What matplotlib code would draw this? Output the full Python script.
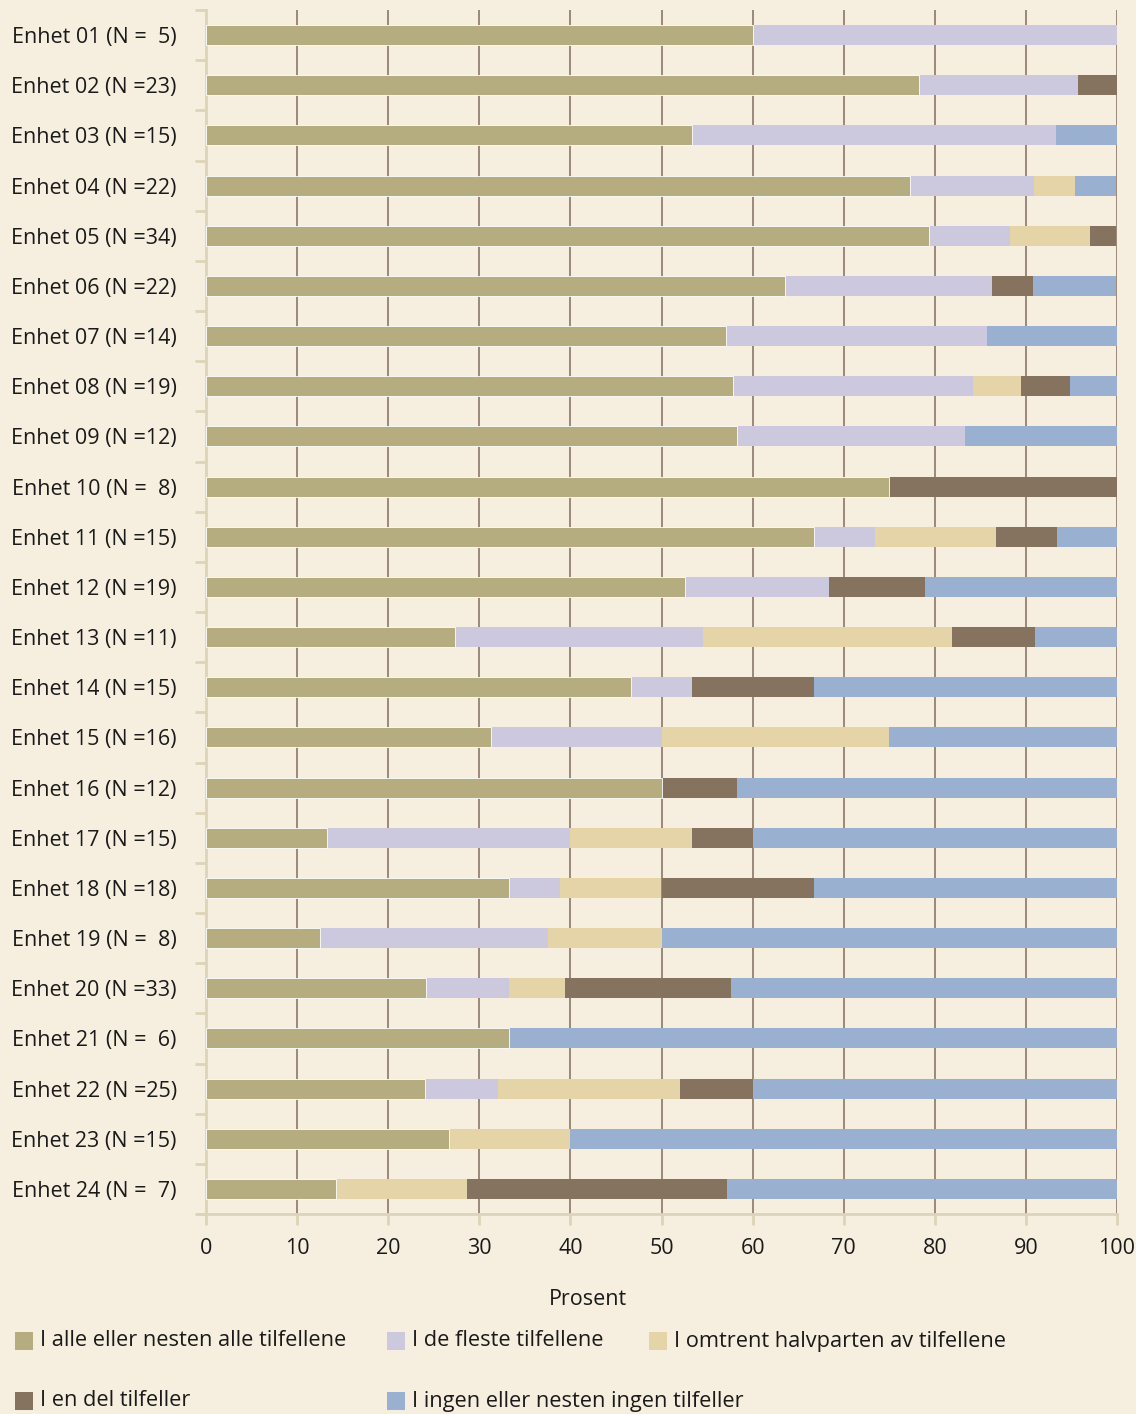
import matplotlib
matplotlib.use("Agg")
import matplotlib.pyplot as plt
from matplotlib.patches import Rectangle
import numpy as np

units = [f"Enhet {i:02d}" for i in range(1, 25)]
n_values = [5, 23, 15, 22, 34, 22, 14, 19, 12, 8, 15, 19, 11, 15, 16, 12, 15, 18, 8, 33, 6, 25, 15, 7]

categories = ["I alle eller nesten alle tilfellene", "I de fleste tilfellene",
              "I omtrent halvparten av tilfellene", "I en del tilfeller",
              "I ingen eller nesten ingen tilfeller"]

alle = [60.0, 78.3, 53.3, 77.3, 79.4, 63.6, 57.1, 57.9, 58.3, 75.0, 66.7, 52.6,
        27.3, 46.7, 31.25, 50.0, 13.3, 33.3, 12.5, 24.2, 33.3, 24.0, 26.7, 14.3]
fleste = [40.0, 17.4, 40.0, 13.6, 8.8, 22.7, 28.6, 26.3, 25.0, 0.0, 6.7, 15.8,
          27.3, 6.7, 18.75, 0.0, 26.7, 5.6, 25.0, 9.1, 0.0, 8.0, 0.0, 0.0]
halvparten = [0.0, 0.0, 0.0, 4.5, 8.8, 0.0, 0.0, 5.3, 0.0, 0.0, 13.3, 0.0,
              27.3, 0.0, 25.0, 0.0, 13.3, 11.1, 12.5, 6.1, 0.0, 20.0, 13.3, 14.3]
en_del = [0.0, 4.3, 0.0, 0.0, 2.9, 4.5, 0.0, 5.3, 0.0, 25.0, 6.7, 10.5,
          9.1, 13.3, 0.0, 8.3, 6.7, 16.7, 0.0, 18.2, 0.0, 8.0, 0.0, 28.6]
ingen = [0.0, 0.0, 6.7, 4.5, 0.0, 9.1, 14.3, 5.3, 16.7, 0.0, 6.7, 21.1,
         9.1, 33.3, 25.0, 41.7, 40.0, 33.3, 50.0, 42.4, 66.7, 40.0, 60.0, 42.9]

xticks = list(range(0, 101, 10))
xlabel = "Prosent"

colors = ["#b5ad80", "#ccc8de", "#e5d4a8", "#857360", "#9ab0d0"]
bg = "#f6efdf"
txt = "#1a1a1a"

plt.rcParams['font.family'] = ['Open Sans', 'DejaVu Sans']

fig = plt.figure(figsize=(11.36, 14.14), dpi=100, facecolor=bg)
ax = fig.add_axes([206/1136, 1 - 1214/1414, (1117-206)/1136, (1214-10)/1414])
ax.set_facecolor(bg)

labels = [f"{u} (N =  {n})" if n < 10 else f"{u} (N ={n})" for u, n in zip(units, n_values)]

y = np.arange(len(units))
series = [alle, fleste, halvparten, en_del, ingen]
left = np.zeros(len(units))
for k, (vals, c) in enumerate(zip(series, colors)):
    v = np.array(vals)
    ax.barh(y, v, left=left, height=0.4, color=c,
            edgecolor='white' if k == 0 else 'none', linewidth=0.6 if k == 0 else 0,
            zorder=3 if k == 0 else 2.9)
    left += v

ax.set_xlim(0, 100)
ax.set_ylim(len(units) - 0.5, -0.5)
ax.set_xticks(xticks)
ax.set_xticklabels([str(t) for t in xticks], fontsize=15.5, color=txt)
ax.set_yticks(y)
ax.set_yticklabels(labels, fontsize=15.5, color=txt)
ax.tick_params(axis='y', which='major', length=0, pad=21)
ax.set_yticks(np.arange(-0.5, len(units), 1.0), minor=True)
ax.tick_params(axis='y', which='minor', length=8, color="#ddd3b8", width=2)
ax.tick_params(axis='x', length=8, color="#ddd3b8", width=2, pad=9)

for t in xticks[1:]:
    ax.axvline(t, color="#8a7866", lw=1.2, zorder=1)

for s in ['top', 'right']:
    ax.spines[s].set_visible(False)
for s in ['left', 'bottom']:
    ax.spines[s].set_color("#ddd3b8")
    ax.spines[s].set_linewidth(2)
ax.spines['bottom'].set_bounds(-0.9, 100)

ax.set_xlabel(xlabel, fontsize=15.5, color=txt, labelpad=20)
ax.xaxis.set_label_coords((588 - 206) / 911, -0.0625)

# legend (manual)
leg_items = [(15, 1341, 0), (387, 1341, 1), (649, 1341, 2), (15, 1401, 3), (387, 1401, 4)]
for px, py, i in leg_items:
    fig.patches.append(Rectangle((px/1136, 1 - (py + 9)/1414), 18/1136, 18/1414,
                                 transform=fig.transFigure, facecolor=colors[i],
                                 edgecolor='none'))
    fig.text((px + 25)/1136, 1 - py/1414, categories[i], fontsize=15.7, color=txt,
             va='center', ha='left')

fig.savefig("out.png", dpi=100, facecolor=bg)
